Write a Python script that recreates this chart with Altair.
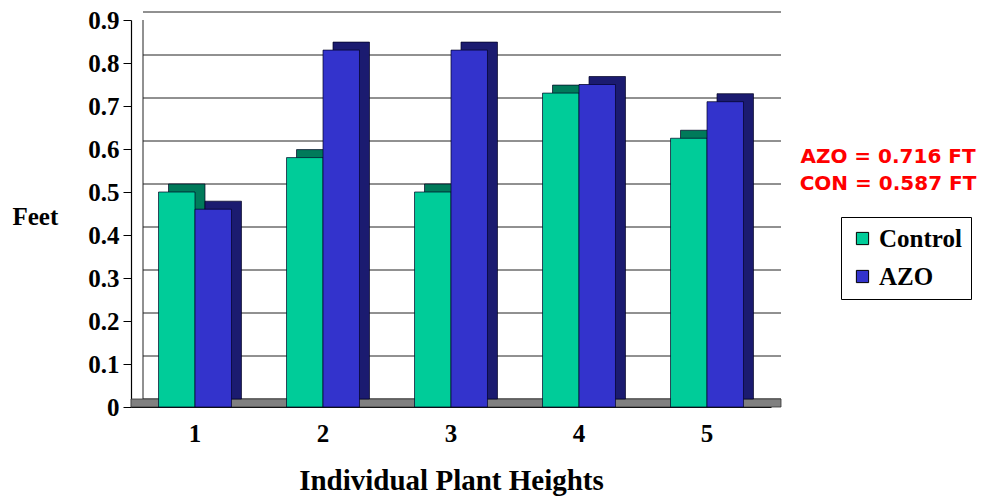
import altair as alt
import pandas as pd

plants = ["1", "2", "3", "4", "5"]
control = [0.50, 0.58, 0.50, 0.73, 0.625]
azo = [0.46, 0.83, 0.83, 0.75, 0.71]
series = ["Control", "AZO"]
front_colors = ["#00CC99", "#3333CC"]
side_colors = ["#007a5a", "#1B1B70"]
y_ticks = [0, 0.1, 0.2, 0.3, 0.4, 0.5, 0.6, 0.7, 0.8, 0.9]
annotation = "AZO = 0.716 FT\nCON = 0.587 FT"

rows = []
for p, c, a in zip(plants, control, azo):
    rows.append({"plant": p, "series": "Control", "feet": c})
    rows.append({"plant": p, "series": "AZO", "feet": a})
df = pd.DataFrame(rows)
grid_df = pd.DataFrame({"v": y_ticks})

W, H = 640, 387
SERIF = "Liberation Serif"
DX, DY = 10, 8
P_INNER, P_OUTER = 0.43, 0.215
STEP = W / (len(plants) - P_INNER + 2 * P_OUTER)
BW = STEP * (1 - P_INNER)

x_enc = alt.X(
    "plant:O", sort=plants,
    scale=alt.Scale(paddingInner=P_INNER, paddingOuter=P_OUTER),
    axis=alt.Axis(
        title="Individual Plant Heights", labelAngle=0, ticks=False,
        labelFont=SERIF, labelFontSize=25, labelFontWeight="bold", labelColor="black",
        labelPadding=14, titleFont=SERIF, titleFontSize=29, titleFontWeight="bold",
        titleColor="black", titlePadding=20, domainColor="black", domainWidth=1.2,
    ),
)
y_scale = alt.Scale(domain=[0, 0.9])
y_enc = alt.Y(
    "feet:Q", scale=y_scale,
    axis=alt.Axis(
        values=y_ticks, grid=False,
        labelExpr="datum.value == 0 ? '0' : format(datum.value, '.1f')",
        title="Feet", titleAngle=0, titleX=-119, titleY=196, titleAlign="left",
        titleBaseline="middle", titleFont=SERIF, titleFontSize=25, titleFontWeight="bold",
        titleColor="black", labelFont=SERIF, labelFontSize=25, labelFontWeight="bold",
        labelColor="black", labelPadding=4, tickSize=8, tickColor="black",
        domainColor="black", domainWidth=1.2,
    ),
)

grid = alt.Chart(grid_df).mark_rule(color="#222222", strokeWidth=1, yOffset=-DY).encode(
    y=alt.Y("v:Q", scale=y_scale),
    x=alt.value(DX + 2), x2=alt.value(W + DX),
)
wall = alt.Chart(grid_df).mark_rule(color="#222222", strokeWidth=1, yOffset=-DY).encode(
    x=alt.value(DX + 2),
    y=alt.Y("min(v):Q", scale=y_scale), y2=alt.Y2("max(v):Q"),
)
floor = alt.Chart(pd.DataFrame({"v": [0]})).mark_rect(
    color="#808080", stroke="#333333", strokeWidth=0.8, y2Offset=-DY
).encode(
    x=alt.value(0), x2=alt.value(W + DX),
    y=alt.Y("v:Q", scale=y_scale), y2="v:Q",
)

back = alt.Chart(df).mark_bar(
    yOffset=-DY, stroke="#000022", strokeWidth=0.7
).encode(
    x=x_enc, y=y_enc,
    xOffset=alt.XOffset("series:N", sort=series,
                        scale=alt.Scale(domain=series, range=[DX, DX + BW])),
    color=alt.Color("series:N", scale=alt.Scale(domain=series, range=side_colors), legend=None),
)
front = alt.Chart(df).mark_bar(stroke="#000022", strokeWidth=0.7).encode(
    x=x_enc, y=y_enc,
    xOffset=alt.XOffset("series:N", sort=series,
                        scale=alt.Scale(domain=series, range=[0, BW])),
    color=alt.Color(
        "series:N", scale=alt.Scale(domain=series, range=front_colors),
        legend=alt.Legend(
            title=None, orient="none", legendX=710, legendY=197,
            strokeColor="black", fillColor="white", padding=9,
            symbolType="square", symbolSize=150, symbolStrokeColor="black",
            symbolStrokeWidth=1, labelFont=SERIF, labelFontSize=25,
            labelFontWeight="bold", labelColor="black", rowPadding=12,
        ),
    ),
)
note = alt.Chart(pd.DataFrame({"t": [annotation]})).mark_text(
    font="DejaVu Sans", fontSize=20, fontWeight="bold", color="#FF0000",
    lineBreak="\n", lineHeight=27, align="center", baseline="middle",
).encode(text="t:N", x=alt.value(757), y=alt.value(137))

chart = alt.layer(grid, wall, floor, back, front, note).resolve_scale(
    color="independent", xOffset="independent"
).properties(
    width=W, height=H,
    autosize=alt.AutoSizeParams(type="none"),
    padding={"left": 123, "top": 12, "right": 209, "bottom": 89},
    background="white",
).configure_view(stroke=None)

chart.save("out.html", embed_options={"renderer": "svg", "actions": False})
